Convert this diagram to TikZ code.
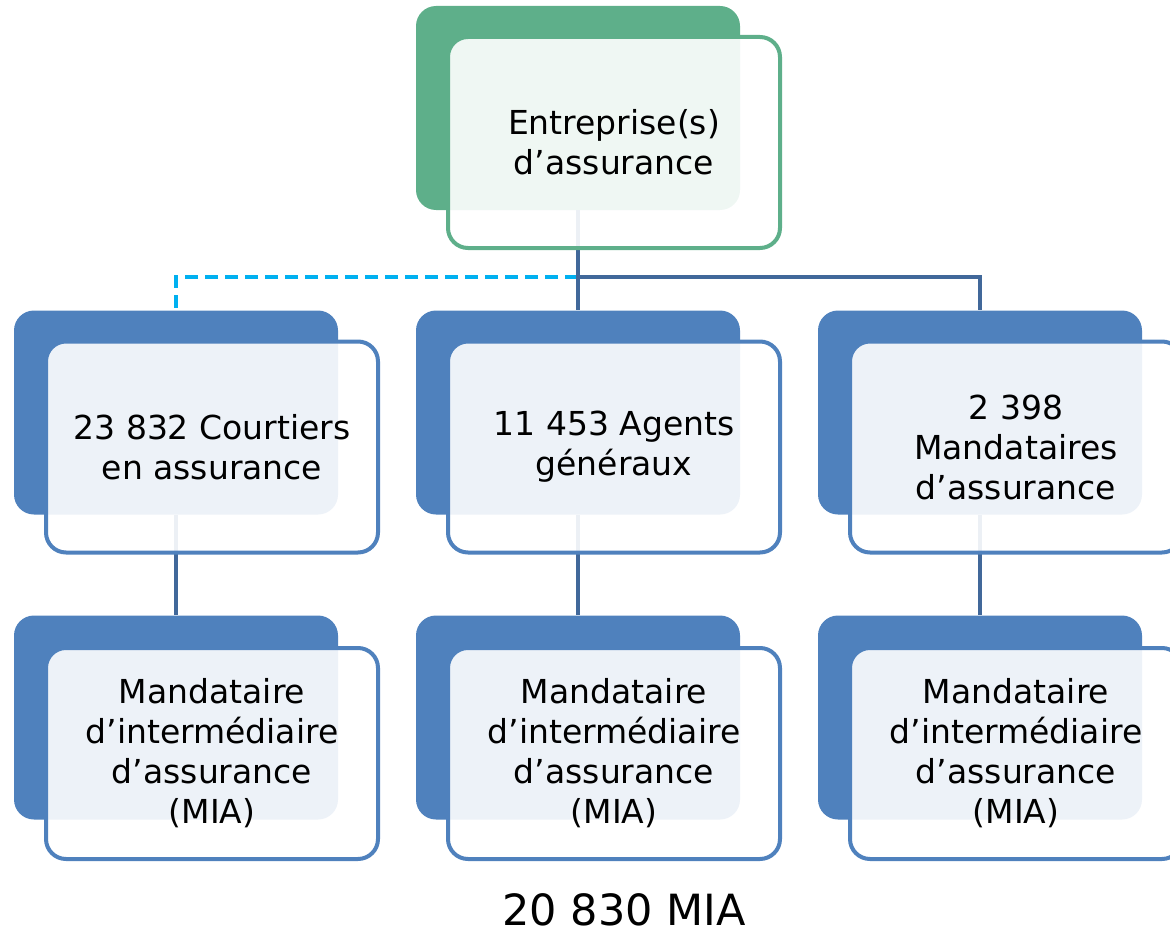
\documentclass[tikz,border=0pt]{standalone}
\usepackage{fontspec}
\setmainfont{DejaVu Sans}
\begin{document}
\begin{tikzpicture}[x=1pt,y=-1pt,
  backbox/.style={rectangle, rounded corners=20pt, minimum width=324pt, minimum height=204pt, inner sep=0pt},
  frontbox/.style={rectangle, rounded corners=20pt, minimum width=332pt, minimum height=211pt, inner sep=0pt,
     line width=4pt, fill=white, fill opacity=0.9, text opacity=1, align=center,
     font=\fontsize{33}{40}\selectfont},
  greenback/.style={backbox, fill=boxgreen},
  blueback/.style={backbox, fill=boxblue},
  greenfront/.style={frontbox, draw=boxgreen},
  bluefront/.style={frontbox, draw=boxblue},
  link/.style={draw=linkblue, line width=4pt},
  dlink/.style={draw=cyanlink, line width=4pt, dash pattern=on 13pt off 7pt},
]
\definecolor{boxgreen}{HTML}{5EAF8A}
\definecolor{boxblue}{HTML}{4F81BD}
\definecolor{linkblue}{HTML}{41689A}
\definecolor{cyanlink}{HTML}{00B0F0}
\useasboundingbox (0,0) rectangle (1170,931);
% back boxes
\node[greenback] (tb) at (578,108) {};
\node[blueback] (b1) at (176,412.5) {};
\node[blueback] (b2) at (578,412.5) {};
\node[blueback] (b3) at (980,412.5) {};
\node[blueback] (c1) at (176,717.5) {};
\node[blueback] (c2) at (578,717.5) {};
\node[blueback] (c3) at (980,717.5) {};
% connectors
\coordinate (j) at (578,277);
\draw[dlink] (j) -| (b1.north);
\draw[link] (tb.south) -- (j);
\draw[link] (j) -| (b3.north);
\draw[link] (j) -- (b2.north);
\draw[link] (b1.south) -- (c1.north);
\draw[link] (b2.south) -- (c2.north);
\draw[link] (b3.south) -- (c3.north);
% front boxes
\node[greenfront] (tf) at (614,142.5) {Entreprise(s)\\d’assurance};
\node[bluefront] (f1) at (212,447) {23 832 Courtiers\\en assurance};
\node[bluefront] (f2) at (614,447) {11 453 Agents\\généraux};
\node[bluefront] (f3) at (1016,447) {2 398\\Mandataires\\d’assurance};
\node[bluefront] (g1) at (212,753.5) {Mandataire\\d’intermédiaire\\d’assurance\\(MIA)};
\node[bluefront] (g2) at (614,753.5) {Mandataire\\d’intermédiaire\\d’assurance\\(MIA)};
\node[bluefront] (g3) at (1016,753.5) {Mandataire\\d’intermédiaire\\d’assurance\\(MIA)};
% total
\node[font=\fontsize{43}{50}\selectfont, inner sep=0pt, anchor=base] (total) at (624,925) {20 830 MIA};
\end{tikzpicture}
\end{document}
